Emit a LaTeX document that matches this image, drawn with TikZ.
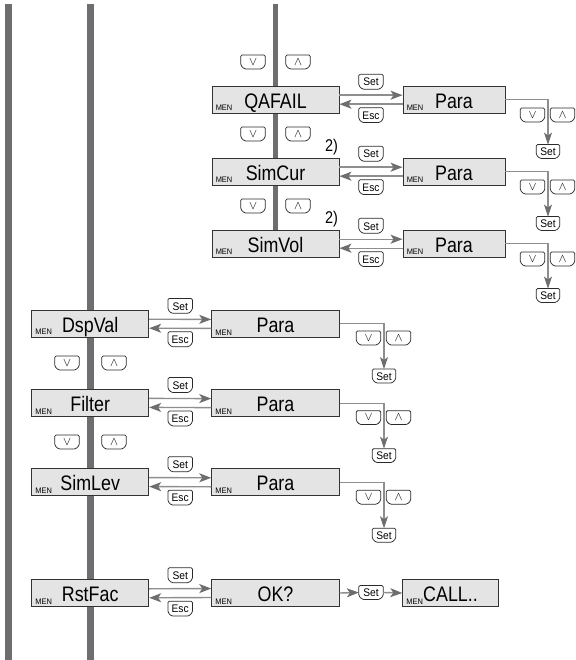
\documentclass[tikz,border=0pt]{standalone}
\usepackage{fontspec}
\setmainfont{Liberation Sans}
\newfontfamily\boxfont[FakeStretch=0.85]{Liberation Sans}
\newfontfamily\keyfont[FakeStretch=0.93]{Liberation Sans}
\usetikzlibrary{arrows.meta}
\definecolor{bargray}{HTML}{6E6E70}
\definecolor{boxfill}{HTML}{E4E4E4}
\definecolor{boxline}{HTML}{333333}
\definecolor{conngray}{HTML}{8E8E8E}
\definecolor{arrgray}{HTML}{6E6E6E}
\definecolor{keyline}{HTML}{2A2A2A}
\tikzset{
  box/.style={draw=boxline, fill=boxfill, line width=0.9pt, minimum height=27pt,
    inner sep=0pt, text height=17pt, text depth=0pt,
    font=\boxfont\fontsize{21}{21}\selectfont},
  men/.style={anchor=south west, inner sep=0pt, font=\keyfont\fontsize{8}{8}\selectfont},
  keybox/.style={rectangle, draw=none, fill=white, minimum width=23pt, minimum height=13.5pt,
    inner sep=0pt, text height=8.5pt, text depth=0pt, font=\keyfont\fontsize{11}{11}\selectfont},
  arrkey/.style={keybox, minimum width=24pt, text height=6.5pt, font=\fontsize{13}{13}\selectfont},
  keyframe/.style={draw=keyline, line width=0.75pt, rounded corners=1.3pt},
  conn/.style={draw=conngray, line width=1.4pt},
  arr/.style={conn, -{Stealth[length=12pt,width=9pt,inset=3pt,color=arrgray]}},
  varr/.style={draw=conngray, line width=1.1pt, -{Stealth[length=12pt,width=8pt,inset=3pt,color=arrgray]}},
  note/.style={inner sep=0pt, font=\boxfont\fontsize{17}{17}\selectfont},
  bar/.style={fill=bargray, draw=none}
}
\newcommand{\keyframe}[1]{%
  \draw[keyframe] ([yshift=3.5pt]#1.south west) -- (#1.north west) -- (#1.north east)
    -- ([yshift=3.5pt]#1.south east) -- ([xshift=-3.5pt]#1.south east)
    -- ([xshift=3.5pt]#1.south west) -- cycle;}
\begin{document}
\begin{tikzpicture}[x=1pt,y=-1pt]
\useasboundingbox (0,0) rectangle (575,660);
% vertical bars
\fill[bar] (5,4) rectangle (12,660);
\fill[bar] (87,4) rectangle (94,660);
\fill[bar] (273,4) rectangle (278,245);

% ---------- upper block ----------
\foreach \i/\nm/\txt in {0/qa/QAFAIL,1/sc/SimCur,2/sv/SimVol}{
  \node[box,minimum width=127pt] (\nm) at (275.5,99.7+72*\i) {\txt};
  \node[men] (\nm m) at ([shift={(4pt,2.5pt)}]\nm.south west) {MEN};
  \node[box,minimum width=102pt] (\nm p) at (454,99.7+72*\i) {Para};
  \node[men] (\nm pm) at ([shift={(4pt,2.5pt)}]\nm p.south west) {MEN};
  \draw[arr] ([yshift=4.5pt]\nm.east) -- node[keybox,above=6pt] (\nm set) {Set} ([yshift=4.5pt]\nm p.west);
  \keyframe{\nm set}
  \draw[arr] ([yshift=-4.5pt]\nm p.west) -- node[keybox,below=3.5pt] (\nm esc) {Esc} ([yshift=-4.5pt]\nm.east);
  \keyframe{\nm esc}
  \node[keybox] (\nm ps) at (548,151.5+72*\i) {Set};
  \keyframe{\nm ps}
  \node[arrkey] (\nm pd) at (532.5,115+72*\i) {$\vee$};
  \keyframe{\nm pd}
  \node[arrkey] (\nm pu) at (562.5,115+72*\i) {$\wedge$};
  \keyframe{\nm pu}
  \draw[varr] (\nm p.east) -| (\nm ps.north);
  \node[arrkey] (\nm d) at (253,62+72*\i) {$\vee$};
  \keyframe{\nm d}
  \node[arrkey] (\nm u) at (298,62+72*\i) {$\wedge$};
  \keyframe{\nm u}
}
\node[note] (n1) at (331.5,147) {2)};
\node[note] (n2) at (331.5,219) {2)};

% ---------- lower block ----------
\foreach \i/\nm/\txt in {0/dv/DspVal,1/fi/Filter,2/sl/SimLev}{
  \node[box,minimum width=117pt] (\nm) at (90.2,323.7+79.2*\i) {\txt};
  \node[men] (\nm m) at ([shift={(4pt,2.5pt)}]\nm.south west) {MEN};
  \node[box,minimum width=127.6pt] (\nm p) at (275.5,323.9+79.2*\i) {Para};
  \node[men] (\nm pm) at ([shift={(4pt,2.5pt)}]\nm p.south west) {MEN};
  \draw[arr] ([yshift=4.5pt]\nm.east) -- node[keybox,above=6pt] (\nm set) {Set} ([yshift=4.5pt]\nm p.west);
  \keyframe{\nm set}
  \draw[arr] ([yshift=-4.5pt]\nm p.west) -- node[keybox,below=3.5pt] (\nm esc) {Esc} ([yshift=-4.5pt]\nm.east);
  \keyframe{\nm esc}
  \node[keybox] (\nm ps) at (384,376+79.6*\i) {Set};
  \keyframe{\nm ps}
  \node[arrkey] (\nm pd) at (368.5,338+79.6*\i) {$\vee$};
  \keyframe{\nm pd}
  \node[arrkey] (\nm pu) at (398.5,338+79.6*\i) {$\wedge$};
  \keyframe{\nm pu}
  \draw[varr] (\nm p.east) -| (\nm ps.north);
}
\foreach \i in {0,1}{
  \node[arrkey] (ld\i) at (67,363+79*\i) {$\vee$};
  \keyframe{ld\i}
  \node[arrkey] (lu\i) at (114,363+79*\i) {$\wedge$};
  \keyframe{lu\i}
}

% ---------- reset row ----------
\node[box,minimum width=117pt] (rf) at (90.2,593.3) {RstFac};
\node[men] (rfm) at ([shift={(4pt,2.5pt)}]rf.south west) {MEN};
\node[box,minimum width=127.6pt] (ok) at (275.5,593) {OK?};
\node[men] (okm) at ([shift={(4pt,2.5pt)}]ok.south west) {MEN};
\draw[arr] ([yshift=4.5pt]rf.east) -- node[keybox,above=6pt] (rfset) {Set} ([yshift=4.5pt]ok.west);
\keyframe{rfset}
\draw[arr] ([yshift=-4.5pt]ok.west) -- node[keybox,below=3.5pt] (rfesc) {Esc} ([yshift=-4.5pt]rf.east);
\keyframe{rfesc}
\node[keybox,minimum width=24pt] (okset) at (371,592.5) {Set};
\keyframe{okset}
\node[box,minimum width=95.6pt] (call) at (450.5,593) {CALL..};
\node[men] (callm) at ([shift={(4pt,2.5pt)}]call.south west) {MEN};
\draw[arr] (ok.east) -- (okset.west);
\draw[arr] (okset.east) -- (call.west);
\end{tikzpicture}
\end{document}
